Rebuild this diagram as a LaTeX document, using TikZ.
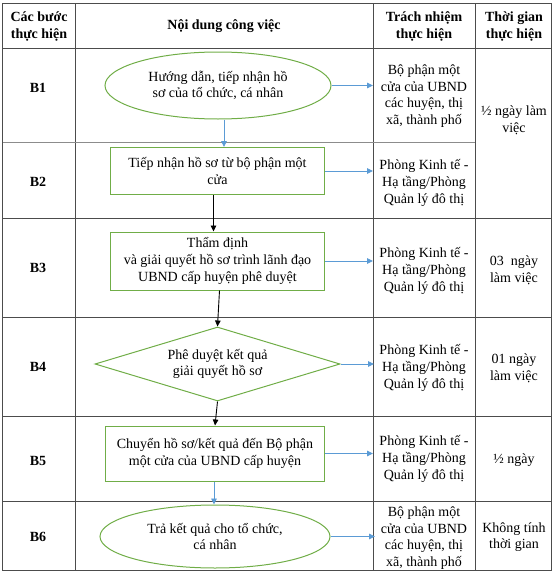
\documentclass[tikz,border=0pt]{standalone}
\usepackage{fontspec}
\setmainfont{Liberation Serif}
\usetikzlibrary{shapes.geometric}
\usetikzlibrary{arrows.meta}
\definecolor{shpgreen}{RGB}{112,173,71}
\definecolor{arrblue}{RGB}{91,155,213}

\begin{document}
\begin{tikzpicture}[x=1pt, y=-1pt,
	every node/.style={font=\fontsize{14}{16.7}\selectfont, align=center, inner sep=0pt},
	hd/.style={font=\fontsize{14}{16.7}\selectfont\bfseries},
	oval/.style={draw=shpgreen, line width=1pt, ellipse, minimum width=226pt, minimum height=67pt},
	rbox/.style={draw=shpgreen, line width=1pt, rectangle, minimum width=214pt, minimum height=47pt},
	dmnd/.style={draw=shpgreen, line width=1pt, diamond, aspect=3.3, minimum width=245pt, minimum height=74pt},
	bluearr/.style={draw=arrblue, line width=0.9pt, -{Triangle[length=6pt,width=5.5pt]}},
	blackarr/.style={draw=black, line width=0.9pt, -{Triangle[length=6pt,width=5.5pt]}},
	tline/.style={draw=black!70, line width=0.8pt}]
\useasboundingbox (0,0) rectangle (554,573);
% table
\draw[tline] (2.7,3.3) rectangle (551.7,570);
\draw[tline] (75.7,3.3) to (75.7,570);
\draw[tline] (373.3,3.3) to (373.3,570);
\draw[tline] (475,3.3) to (475,570);
\draw[tline] (2.7,48.3) to (551.7,48.3);
\draw[tline, draw=black!45] (2.7,142.3) to (475,142.3);
\draw[tline] (2.7,218.3) to (551.7,218.3);
\draw[tline] (2.7,317.3) to (551.7,317.3);
\draw[tline] (2.7,416) to (551.7,416);
\draw[tline] (2.7,501) to (551.7,501);
% header
\node[hd] (h1) at (39,26.5) {Các bước\\thực hiện};
\node[hd] (h2) at (224,26.5) {Nội dung công việc};
\node[hd] (h3) at (424,26.5) {Trách nhiệm\\thực hiện};
\node[hd] (h4) at (514,26.5) {Thời gian\\thực hiện};
% steps
\node[hd] (l1) at (38,88) {B1};
\node[hd] (l2) at (38,182) {B2};
\node[hd] (l3) at (38,268) {B3};
\node[hd] (l4) at (38,367) {B4};
\node[hd] (l5) at (38,461) {B5};
\node[hd] (l6) at (38,537) {B6};
% flow
\node[oval] (s1) at (218,85.5) {Hướng dẫn, tiếp nhận hồ\\sơ của tổ chức, cá nhân};
\node[rbox] (s2) at (217.5,171) {Tiếp nhận hồ sơ từ bộ phận một\\cửa};
\node[rbox, minimum height=58pt] (s3) at (217.5,261) {Thẩm định\\và giải quyết hồ sơ trình lãnh đạo\\UBND cấp huyện phê duyệt};
\node[dmnd] (s4) at (217.5,364) {Phê duyệt kết quả\\giải quyết hồ sơ};
\node[rbox, minimum width=218.6pt, minimum height=55pt] (s5) at (215,453.5) {Chuyển hồ sơ/kết quả đến Bộ phận\\một cửa của UBND cấp huyện};
\node[oval, minimum width=230pt, minimum height=63pt] (s6) at (215,536.5) {Trả kết quả cho tổ chức,\\cá nhân};
% responsibility
\node (r1) at (424,96) {Bộ phận một\\cửa của UBND\\các huyện, thị\\xã, thành phố};
\node (r2) at (424,183) {Phòng Kinh tế -\\Hạ tầng/Phòng\\Quản lý đô thị};
\node (r3) at (424,271) {Phòng Kinh tế -\\Hạ tầng/Phòng\\Quản lý đô thị};
\node (r4) at (424,368) {Phòng Kinh tế -\\Hạ tầng/Phòng\\Quản lý đô thị};
\node (r5) at (424,459) {Phòng Kinh tế -\\Hạ tầng/Phòng\\Quản lý đô thị};
\node (r6) at (424,538) {Bộ phận một\\cửa của UBND\\các huyện, thị\\xã, thành phố};
% time
\node (t1) at (514,120) {½ ngày làm\\việc};
\node (t3) at (514,270) {03\ \ ngày\\làm việc};
\node (t4) at (514,368) {01 ngày\\làm việc};
\node (t5) at (514,460) {½ ngày};
\node (t6) at (514,537) {Không tính\\thời gian};
% arrows
\coordinate (e1) at (373,85.5);
\coordinate (e2) at (373,171);
\coordinate (e3) at (373,261);
\coordinate (e4) at (374,364);
\coordinate (e5) at (373,453.5);
\coordinate (e6) at (375,536.5);
\draw[bluearr] (s1.east) to (e1);
\draw[bluearr] (s2.east) to (e2);
\draw[bluearr] (s3.east) to (e3);
\draw[bluearr] (s4.east) to (e4);
\draw[bluearr] (s5.east) to (e5);
\draw[bluearr] (s6.east) to (e6);
\coordinate (d1) at ([xshift=6pt]s1.south);
\coordinate (d2) at ([xshift=-4pt]s2.south);
\coordinate (d3) at ([xshift=2pt]s3.south);
\coordinate (d5) at ([xshift=-1pt]s5.south);
\draw[bluearr] (d1) to (d1 |- s2.north);
\draw[blackarr] (d2) to (d2 |- s3.north);
\draw[blackarr] (d3) to (s4.north);
\draw[blackarr] (s4.south) to (s5.north);
\draw[bluearr] (d5) to (d5 |- s6.north);
\end{tikzpicture}
\end{document}
